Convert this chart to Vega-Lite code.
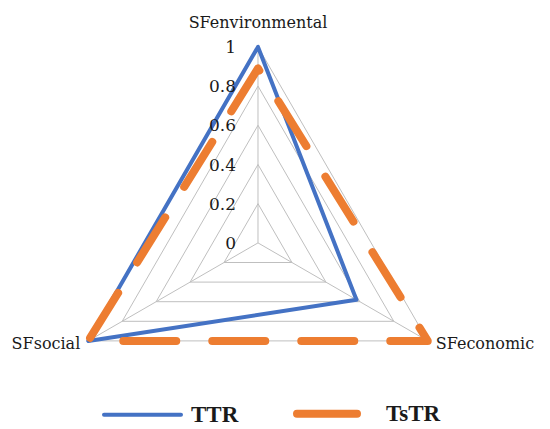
{
  "$schema": "https://vega.github.io/schema/vega-lite/v6.json",
  "width": 550,
  "height": 429,
  "autosize": {"type": "none"},
  "padding": 0,
  "background": "white",
  "config": {"view": {"stroke": null}},
  "datasets": {
    "axes": [
      {"axis": "SFenvironmental", "pos": 0},
      {"axis": "SFeconomic", "pos": 1},
      {"axis": "SFsocial", "pos": 2}
    ],
    "grid": [
      {"level": 0.2, "pos": 0}, {"level": 0.2, "pos": 1}, {"level": 0.2, "pos": 2},
      {"level": 0.4, "pos": 0}, {"level": 0.4, "pos": 1}, {"level": 0.4, "pos": 2},
      {"level": 0.6, "pos": 0}, {"level": 0.6, "pos": 1}, {"level": 0.6, "pos": 2},
      {"level": 0.8, "pos": 0}, {"level": 0.8, "pos": 1}, {"level": 0.8, "pos": 2},
      {"level": 1.0, "pos": 0}, {"level": 1.0, "pos": 1}, {"level": 1.0, "pos": 2}
    ],
    "ticks": [
      {"level": 0, "label": "0"},
      {"level": 0.2, "label": "0.2"},
      {"level": 0.4, "label": "0.4"},
      {"level": 0.6, "label": "0.6"},
      {"level": 0.8, "label": "0.8"},
      {"level": 1, "label": "1"}
    ],
    "scores": [
      {"series": "TTR", "axis": "SFenvironmental", "pos": 0, "value": 1},
      {"series": "TTR", "axis": "SFeconomic", "pos": 1, "value": 0.58},
      {"series": "TTR", "axis": "SFsocial", "pos": 2, "value": 1},
      {"series": "TsTR", "axis": "SFenvironmental", "pos": 0, "value": 0.89},
      {"series": "TsTR", "axis": "SFeconomic", "pos": 1, "value": 1},
      {"series": "TsTR", "axis": "SFsocial", "pos": 2, "value": 1}
    ]
  },
  "layer": [
    {
      "data": {"name": "grid"},
      "transform": [
        {"calculate": "datum.level*sin(datum.pos*2*PI/3)", "as": "x"},
        {"calculate": "datum.level*cos(datum.pos*2*PI/3)", "as": "y"}
      ],
      "mark": {"type": "line", "interpolate": "linear-closed", "color": "#BFBFBF", "strokeWidth": 1},
      "encoding": {
        "x": {"field": "x", "type": "quantitative", "scale": {"domain": [-1.3163, 1.4898], "nice": false, "zero": false}, "axis": null},
        "y": {"field": "y", "type": "quantitative", "scale": {"domain": [-0.9495, 1.2393], "nice": false, "zero": false}, "axis": null},
        "detail": {"field": "level", "type": "nominal"},
        "order": {"field": "pos", "type": "quantitative"}
      }
    },
    {
      "data": {"name": "axes"},
      "transform": [
        {"calculate": "sin(datum.pos*2*PI/3)", "as": "x"},
        {"calculate": "cos(datum.pos*2*PI/3)", "as": "y"}
      ],
      "mark": {"type": "rule", "color": "#BFBFBF", "strokeWidth": 1},
      "encoding": {
        "x": {"field": "x", "type": "quantitative"},
        "y": {"field": "y", "type": "quantitative"},
        "x2": {"datum": 0},
        "y2": {"datum": 0}
      }
    },
    {
      "data": {"name": "scores"},
      "transform": [
        {"filter": "datum.series === 'TTR'"},
        {"calculate": "datum.value*sin(datum.pos*2*PI/3)", "as": "x"},
        {"calculate": "datum.value*cos(datum.pos*2*PI/3)", "as": "y"}
      ],
      "mark": {"type": "line", "interpolate": "linear-closed", "strokeCap": "round", "strokeJoin": "round"},
      "encoding": {
        "x": {"field": "x", "type": "quantitative"},
        "y": {"field": "y", "type": "quantitative"},
        "color": {
          "field": "series", "type": "nominal",
          "scale": {"domain": ["TTR", "TsTR"], "range": ["#4472C4", "#ED7D31"]},
          "legend": {
            "title": null, "orient": "none", "legendX": 102, "legendY": 371, "direction": "horizontal",
            "symbolType": "stroke", "symbolSize": 5929,
            "labelFont": "Liberation Serif", "labelFontSize": 23, "labelFontWeight": "bold", "labelColor": "#1a1a1a",
            "labelOffset": 8, "columnPadding": 42, "padding": 0,
            "encode": {"symbols": {"update": {
              "strokeCap": {"value": "round"},
              "strokeDash": {"signal": "datum.value === 'TsTR' ? [60, 40] : [1, 0]"}
            }}}
          }
        },
        "strokeWidth": {"field": "series", "type": "nominal", "scale": {"domain": ["TTR", "TsTR"], "range": [4, 8]}},
        "order": {"field": "pos", "type": "quantitative", "sort": "descending"}
      }
    },
    {
      "data": {"name": "scores"},
      "transform": [
        {"filter": "datum.series === 'TsTR'"},
        {"calculate": "datum.value*sin(datum.pos*2*PI/3)", "as": "x"},
        {"calculate": "datum.value*cos(datum.pos*2*PI/3)", "as": "y"}
      ],
      "mark": {"type": "line", "interpolate": "linear-closed", "strokeCap": "round", "strokeJoin": "round", "strokeDash": [53, 36], "strokeDashOffset": 54},
      "encoding": {
        "x": {"field": "x", "type": "quantitative"},
        "y": {"field": "y", "type": "quantitative"},
        "color": {"field": "series", "type": "nominal"},
        "strokeWidth": {"field": "series", "type": "nominal"},
        "order": {"field": "pos", "type": "quantitative", "sort": "descending"}
      }
    },
    {
      "data": {"name": "ticks"},
      "mark": {"type": "text", "align": "right", "baseline": "middle", "dx": -22, "dy": 1, "font": "DejaVu Serif", "fontSize": 17, "color": "#1a1a1a"},
      "encoding": {
        "x": {"datum": 0},
        "y": {"field": "level", "type": "quantitative"},
        "text": {"field": "label"}
      }
    },
    {
      "data": {"name": "axes"},
      "transform": [
        {"filter": "datum.pos == 0"},
        {"calculate": "sin(datum.pos*2*PI/3)", "as": "x"},
        {"calculate": "cos(datum.pos*2*PI/3)", "as": "y"}
      ],
      "mark": {"type": "text", "align": "center", "baseline": "alphabetic", "dy": -19, "font": "DejaVu Serif", "fontSize": 16, "color": "#1a1a1a"},
      "encoding": {
        "x": {"field": "x", "type": "quantitative"},
        "y": {"field": "y", "type": "quantitative"},
        "text": {"field": "axis"}
      }
    },
    {
      "data": {"name": "axes"},
      "transform": [
        {"filter": "datum.pos == 1"},
        {"calculate": "sin(datum.pos*2*PI/3)", "as": "x"},
        {"calculate": "cos(datum.pos*2*PI/3)", "as": "y"}
      ],
      "mark": {"type": "text", "align": "left", "baseline": "alphabetic", "dx": 8, "dy": 8, "font": "DejaVu Serif", "fontSize": 16, "color": "#1a1a1a"},
      "encoding": {
        "x": {"field": "x", "type": "quantitative"},
        "y": {"field": "y", "type": "quantitative"},
        "text": {"field": "axis"}
      }
    },
    {
      "data": {"name": "axes"},
      "transform": [
        {"filter": "datum.pos == 2"},
        {"calculate": "sin(datum.pos*2*PI/3)", "as": "x"},
        {"calculate": "cos(datum.pos*2*PI/3)", "as": "y"}
      ],
      "mark": {"type": "text", "align": "right", "baseline": "alphabetic", "dx": -8, "dy": 8, "font": "DejaVu Serif", "fontSize": 16, "color": "#1a1a1a"},
      "encoding": {
        "x": {"field": "x", "type": "quantitative"},
        "y": {"field": "y", "type": "quantitative"},
        "text": {"field": "axis"}
      }
    }
  ]
}
